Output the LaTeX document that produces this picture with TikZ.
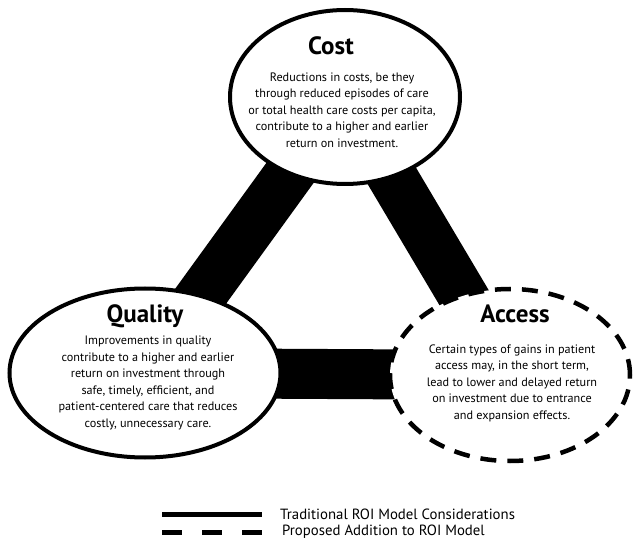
\documentclass[tikz,border=0pt]{standalone}
\usepackage{fontspec}
\setmainfont{PT Sans}
\usetikzlibrary{shapes.geometric,backgrounds,positioning}

\tikzset{
  pillar/.style={ellipse, draw, line width=4pt, fill=white, inner sep=0pt},
  proposed/.style={pillar, line width=4.5pt, dash pattern=on 16pt off 11pt},
  pillartitle/.style={font=\fontsize{25}{28}\selectfont\bfseries, inner sep=0pt, anchor=base},
  pillartext/.style={font=\fontsize{12.2}{16.5}\selectfont, align=center, inner sep=0pt},
  link/.style={line width=50pt},
  legendline/.style={line width=5pt},
  legendtext/.style={font=\fontsize{14.8}{17}\selectfont, inner sep=0pt, anchor=west},
}

\begin{document}
\begin{tikzpicture}[x=1pt, y=-1pt]
    \useasboundingbox (0,0) rectangle (635,548);

    % ELLIPSES
    \node[pillar, minimum width=230pt, minimum height=174pt] (cost) at (345,97) {};
    \node[pillar, minimum width=271pt, minimum height=169pt] (quality) at (145,373) {};
    \node[proposed, minimum width=240pt, minimum height=172pt] (access) at (510,375) {};

    % BARS (behind the ellipses)
    \begin{scope}[on background layer]
        \draw[link] (cost.center) -- (quality.center);
        \draw[link] (cost.center) -- (access.center);
        \draw[link] (quality.center) -- (access.center);
    \end{scope}

    % COST
    \node[pillartitle] (costtitle) at (331,55) {Cost};
    \node[pillartext] (costtext) at (342,110) {Reductions in costs, be they\\
        through reduced episodes of care\\
        or total health care costs per capita,\\
        contribute to a higher and earlier\\
        return on investment.};

    % QUALITY
    \node[pillartitle] (qualitytitle) at (145,323) {Quality};
    \node[pillartext] (qualitytext) at (148,383) {Improvements in quality\\
        contribute to a higher and earlier\\
        return on investment through\\
        safe, timely, efficient, and\\
        patient-centered care that reduces\\
        costly, unnecessary care.};

    % ACCESS
    \node[pillartitle] (accesstitle) at (515,323) {Access};
    \node[pillartext] (accesstext) at (512,383) {Certain types of gains in patient\\
        access may, in the short term,\\
        lead to lower and delayed return\\
        on investment due to entrance\\
        and expansion effects.};

    % LEGEND
    \coordinate (tradA) at (162,514);
    \coordinate (tradB) at (262,514);
    \coordinate (propA) at (162,532);
    \coordinate (propB) at (262,532);
    \draw[legendline] (tradA) -- (tradB);
    \draw[legendline, dash pattern=on 20pt off 20pt] (propA) -- (propB);
    \node[legendtext, right=18pt of tradB] (tradtext) {Traditional ROI Model Considerations};
    \node[legendtext, right=20pt of propB] (proptext) {Proposed Addition to ROI Model};

\end{tikzpicture}
\end{document}
